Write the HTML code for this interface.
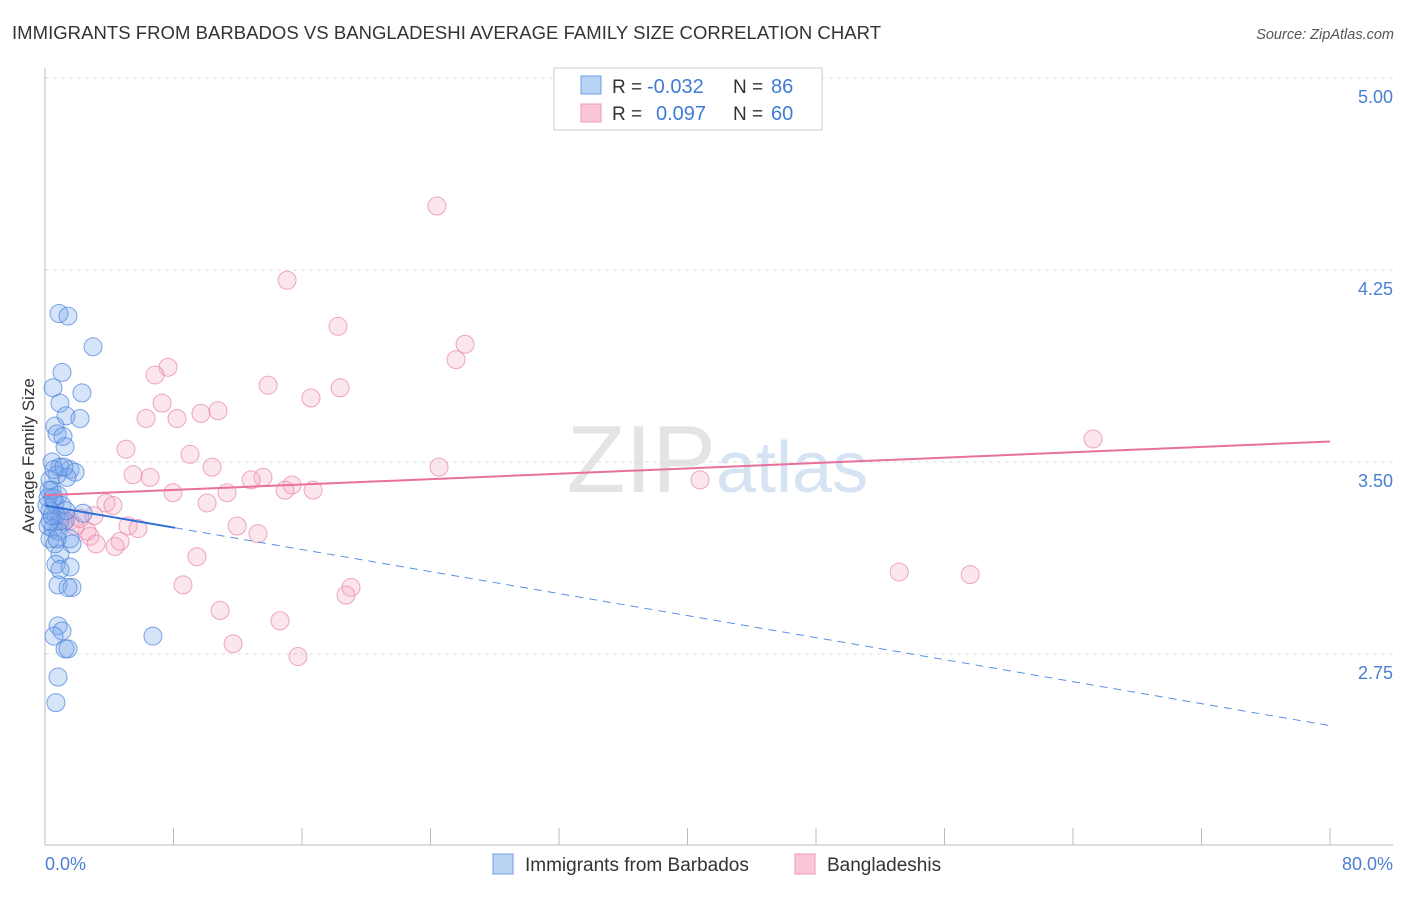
<!DOCTYPE html>
<html><head><meta charset="utf-8"><style>
body{margin:0;background:#fff;font-family:"Liberation Sans",sans-serif;}
svg text{font-family:"Liberation Sans",sans-serif;}
</style></head><body>
<svg id="chart" width="1406" height="892">
<text x="12" y="39" font-size="18.5" fill="#333" textLength="869">IMMIGRANTS FROM BARBADOS VS BANGLADESHI AVERAGE FAMILY SIZE CORRELATION CHART</text>
<text x="1394" y="39" font-size="14.5" fill="#555" font-style="italic" text-anchor="end">Source: ZipAtlas.com</text>
<text x="716" y="492" font-size="96" fill="#e4e4e4" text-anchor="end" font-family="Liberation Serif">ZIP</text>
<text x="716" y="492" font-size="72" fill="#d5e3f3">atlas</text>
<g id="grid"></g>
<g id="axes"></g>
<g id="pink"></g>
<g id="blue"></g>
<g id="trends"></g>
<text x="34" y="456" font-size="17" fill="#333" text-anchor="middle" transform="rotate(-90 34 456)">Average Family Size</text>
<text x="45" y="870" font-size="18" fill="#4a7fd4">0.0%</text>
<text x="1393" y="870" font-size="18" fill="#4a7fd4" text-anchor="end">80.0%</text>
<g>
<rect x="554" y="68" width="268" height="62" fill="#fff" stroke="#ccc"/>
<rect x="581" y="76" width="20" height="18" fill="#b9d3f5" stroke="#6e9fe6"/>
<rect x="581" y="104" width="20" height="18" fill="#fbc6d6" stroke="#ec9ab6"/>
<text x="612" y="93" font-size="19" fill="#333">R =</text>
<text x="647" y="93" font-size="20" fill="#3f7bd9">-0.032</text>
<text x="733" y="93" font-size="19" fill="#333">N =</text>
<text x="771" y="93" font-size="20" fill="#3f7bd9">86</text>
<text x="612" y="120" font-size="19" fill="#333">R =</text>
<text x="656" y="120" font-size="20" fill="#3f7bd9">0.097</text>
<text x="733" y="120" font-size="19" fill="#333">N =</text>
<text x="771" y="120" font-size="20" fill="#3f7bd9">60</text>
</g>
<g>
<rect x="493" y="854" width="20" height="20" fill="#b9d3f5" stroke="#6e9fe6"/>
<text x="525" y="871" font-size="19" fill="#333">Immigrants from Barbados</text>
<rect x="795" y="854" width="20" height="20" fill="#fbc6d6" stroke="#ec9ab6"/>
<text x="827" y="871" font-size="19" fill="#333">Bangladeshis</text>
</g>
</svg>
<script>
const yTicks=[5.00,4.25,3.50,2.75];
const xTickCount=10;
const blueX=[0.87,1.43,2.99,1.06,0.5,2.3,0.93,1.31,2.18,0.62,0.75,1.12,1.25,0.44,0.93,1.56,1.87,0.75,1.37,0.31,0.44,0.81,0.19,0.62,1.06,2.37,0.31,0.68,0.93,1.25,0.19,0.5,0.81,1.56,0.31,0.62,1.68,0.93,0.68,1.56,0.93,0.81,1.68,1.43,0.81,1.06,0.56,1.25,1.43,6.72,0.81,0.68,0.31,0.44,0.12,0.25,0.56,1.18,1.31,0.75,0.5];
const blueY=[4.08,4.07,3.95,3.85,3.79,3.77,3.73,3.68,3.67,3.64,3.61,3.60,3.56,3.50,3.48,3.47,3.46,3.45,3.44,3.43,3.39,3.37,3.36,3.34,3.33,3.30,3.31,3.29,3.27,3.27,3.25,3.24,3.23,3.20,3.20,3.18,3.18,3.14,3.10,3.09,3.08,3.02,3.01,3.01,2.86,2.84,2.82,2.77,2.77,2.82,2.66,2.56,3.27,3.29,3.33,3.39,3.47,3.48,3.31,3.20,3.36];
const pinkX=[24.4,15.07,18.24,26.15,25.59,7.66,6.85,13.89,18.37,16.56,7.29,10.77,6.29,8.22,9.71,5.04,9.03,24.53,10.4,5.48,6.54,13.57,15.38,12.83,16.69,7.97,14.94,11.33,10.09,3.8,4.23,3.05,1.12,1.56,5.17,11.96,13.26,5.79,2.62,2.8,4.67,3.18,4.36,9.46,8.59,19.05,18.74,10.9,14.63,11.71,15.75,65.25,40.78,53.18,57.6,1.87,2.18,0.93];
const pinkY=[4.50,4.21,4.03,3.96,3.90,3.87,3.84,3.80,3.79,3.75,3.73,3.70,3.67,3.67,3.69,3.55,3.53,3.48,3.48,3.45,3.44,3.44,3.41,3.43,3.39,3.38,3.39,3.38,3.34,3.34,3.33,3.29,3.27,3.27,3.25,3.25,3.22,3.24,3.23,3.21,3.19,3.18,3.17,3.13,3.02,3.01,2.98,2.92,2.88,2.79,2.74,3.59,3.43,3.07,3.06,3.25,3.28,3.29];
const blueTrend=[3.33,2.47];
const pinkTrend=[3.37,3.58];
const blueSolidEnd=8.1;
const NS="http://www.w3.org/2000/svg";
const xs=v=>45+v/80*1285;
const ys=v=>78+(5-v)*256;
function mk(tag,parent,attrs){const e=document.createElementNS(NS,tag);for(const k in attrs)e.setAttribute(k,attrs[k]);document.getElementById(parent).appendChild(e);return e;}
yTicks.forEach((t,i)=>{
 const l=mk('line','grid',{x1:45,x2:1393,y1:ys(t),y2:ys(t),stroke:'#ddd','stroke-dasharray':'4,4'});
 
 
 const tx=mk('text','grid',{x:1393,y:ys(t)+25,'font-size':18,fill:'#4a7fd4','text-anchor':'end'});
 tx.textContent=t.toFixed(2);
 
 
});
const ax=mk('line','axes',{x1:45,x2:45,y1:68,y2:845,stroke:'#bbb'});


const bx=mk('line','axes',{x1:45,x2:1393,y1:845,y2:845,stroke:'#bbb'});


for(let i=0;i<=xTickCount;i++){
 const tk=mk('line','axes',{x1:xs(i*8),x2:xs(i*8),y1:828,y2:845,stroke:'#bbb'});
 
 
}
pinkX.forEach((x,i)=>{
 const c=mk('circle','pink',{cx:xs(x),cy:ys(pinkY[i]),r:9,fill:'rgba(244,165,195,0.28)',stroke:'rgba(232,130,170,0.7)','stroke-width':1});
 
 
});
blueX.forEach((x,i)=>{
 const c=mk('circle','blue',{cx:xs(x),cy:ys(blueY[i]),r:9,fill:'rgba(120,165,235,0.3)',stroke:'rgba(80,135,220,0.75)','stroke-width':1});
 
 
});
const bAt=x=>blueTrend[0]+(blueTrend[1]-blueTrend[0])*x/80;
const b1=mk('line','trends',{x1:xs(0),y1:ys(bAt(0)),x2:xs(blueSolidEnd),y2:ys(bAt(blueSolidEnd)),stroke:'#2f6fd8','stroke-width':2});


const b2=mk('line','trends',{x1:xs(blueSolidEnd),y1:ys(bAt(blueSolidEnd)),x2:xs(80),y2:ys(bAt(80)),stroke:'#5a8fe0','stroke-width':1,'stroke-dasharray':'8,6'});


const p1=mk('line','trends',{x1:xs(0),y1:ys(pinkTrend[0]),x2:xs(80),y2:ys(pinkTrend[1]),stroke:'#e8709a','stroke-width':2});


</script>
</body></html>
